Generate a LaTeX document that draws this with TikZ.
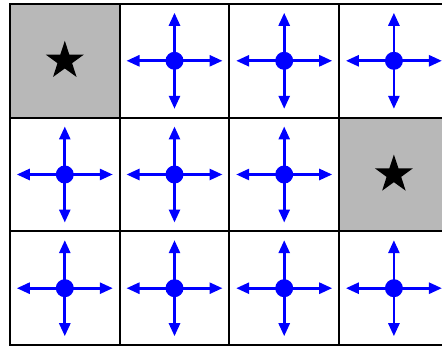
\documentclass[tikz,border=0pt]{standalone}
\usepackage{xcolor}
\usepackage{tikz}
\usetikzlibrary{shapes.geometric,arrows.meta}

\begin{document}
\begin{tikzpicture}[
    x=0.02cm, y=-0.02cm,
    cellbox/.style={rectangle, draw=black, line width=1.2pt, minimum width=2.194cm, minimum height=2.274cm, inner sep=0pt},
    goalcell/.style={cellbox, fill=black!28},
    goalstar/.style={star, star points=5, star point ratio=2.6, fill=black, minimum size=0.8cm, inner sep=0pt},
    agentdot/.style={circle, fill=blue, minimum size=0.36cm, inner sep=0pt},
    move/.style={-{Triangle[length=0.26cm, width=0.22cm]}, draw=blue, line width=1.5pt}
]
    \useasboundingbox (0,0) rectangle (442,347);

    % grid of cells
    \foreach \c in {0,...,3}{
      \foreach \r in {0,...,2}{
        \node [cellbox] (cell-\c-\r) at ({64.8+109.7*\c},{60.8+113.7*\r}) {};
      }
    }

    % goal cells
    \node [goalcell] (goal-a) at (cell-0-0) {};
    \node [goalcell] (goal-b) at (cell-3-1) {};
    \node [goalstar] (star-a) at (goal-a) {};
    \node [goalstar] (star-b) at (goal-b) {};

    % agent with its four moves
    \foreach \c/\r in {1/0,2/0,3/0,0/1,1/1,2/1,0/2,1/2,2/2,3/2}{
      \node [agentdot] (agent-\c-\r) at (cell-\c-\r) {};
      \path (agent-\c-\r.center) +(48,0) coordinate (east-\c-\r)
                                 +(-48,0) coordinate (west-\c-\r)
                                 +(0,-48) coordinate (north-\c-\r)
                                 +(0,48) coordinate (south-\c-\r);
      \draw [move] (agent-\c-\r.center) -- (east-\c-\r);
      \draw [move] (agent-\c-\r.center) -- (west-\c-\r);
      \draw [move] (agent-\c-\r.center) -- (north-\c-\r);
      \draw [move] (agent-\c-\r.center) -- (south-\c-\r);
    }
\end{tikzpicture}
\end{document}
